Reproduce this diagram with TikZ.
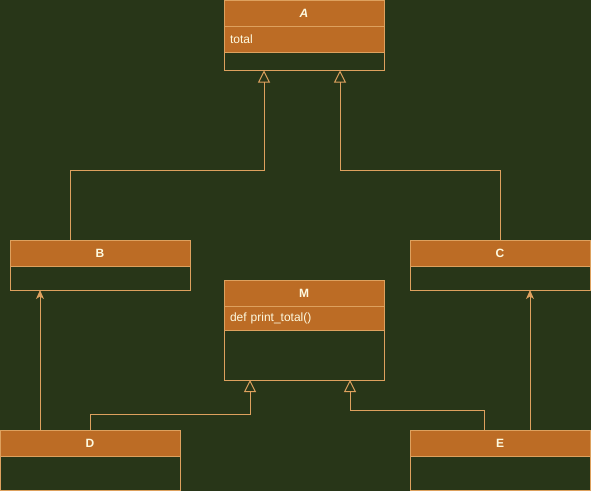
\documentclass[tikz,border=0pt]{standalone}
\usepackage{fontspec}
\setmainfont{Liberation Sans}
\usetikzlibrary{positioning,arrows.meta}
\definecolor{umlbg}{HTML}{283618}
\definecolor{umlfill}{HTML}{BC6C25}
\definecolor{umlline}{HTML}{DDA15E}
\definecolor{umltext}{HTML}{FEFAE0}

\tikzset{
  classhead/.style={rectangle, draw=umlline, fill=umlfill, line width=1pt,
        minimum height=26pt, inner sep=0pt, outer sep=0pt, text=umltext,
        font=\fontsize{12}{14}\selectfont\bfseries},
  classrow/.style={rectangle, draw=umlline, fill=umlfill, line width=1pt,
        minimum height=24pt, inner xsep=6pt, inner ysep=0pt, outer sep=0pt,
        align=left, text=umltext, font=\fontsize{12}{14}\selectfont},
  classbody/.style={rectangle, draw=umlline, line width=1pt, inner sep=0pt,
        outer sep=0pt},
  inherit/.style={draw=umlline, line width=1pt,
        -{Triangle[open, width=12pt, length=12pt]}},
  assoc/.style={draw=umlline, line width=1pt,
        -{Stealth[width=8pt, length=9pt, inset=2.5pt]}}
}

\begin{document}
\begin{tikzpicture}[x=1pt, y=-1pt]
  \useasboundingbox (0,0) rectangle (591,491);
  \fill[umlbg] (0,0) rectangle (591,491);

  % base class on top, with its one field
  \node[classhead, minimum width=160pt] (A) at (304,13.5) {\textit{A}};
  \node[classrow, text width=148pt, minimum height=26pt, below=0pt of A] (Aattr) {total};
  \node[classbody, minimum width=160pt, minimum height=18pt, below=0pt of Aattr] (Abody) {};

  % the two direct subclasses
  \node[classhead, minimum width=180pt] (B) at (100,253) {B};
  \node[classbody, minimum width=180pt, minimum height=24pt, below=0pt of B] (Bbody) {};
  \node[classhead, minimum width=180pt] (C) at (500,253) {C};
  \node[classbody, minimum width=180pt, minimum height=24pt, below=0pt of C] (Cbody) {};

  % mixin in the middle
  \node[classhead, minimum width=160pt] (M) at (304,293) {M};
  \node[classrow, text width=148pt, below=0pt of M] (Mattr) {def print\_total()};
  \node[classbody, minimum width=160pt, minimum height=50pt, below=0pt of Mattr] (Mbody) {};

  % bottom row
  \node[classhead, minimum width=180pt] (D) at (90,443) {D};
  \node[classbody, minimum width=180pt, minimum height=34pt, below=0pt of D] (Dbody) {};
  \node[classhead, minimum width=180pt] (E) at (500,443) {E};
  \node[classbody, minimum width=180pt, minimum height=34pt, below=0pt of E] (Ebody) {};

  % generalisations up to A
  \draw[inherit] ([xshift=-30pt]B.north) -- ++(0,-70) -| ([xshift=-40pt]Abody.south);
  \draw[inherit] (C.north) -- ++(0,-70) -| ([xshift=36pt]Abody.south);

  % D and E inherit from M
  \draw[inherit] (D.north) -- ++(0,-16) -| ([xshift=-54pt]Mbody.south);
  \draw[inherit] ([xshift=-16pt]E.north) -- ++(0,-20) -| ([xshift=46pt]Mbody.south);

  % D and E point to B and C
  \coordinate (Dfoot) at ([xshift=-50pt]D.north);
  \coordinate (Efoot) at ([xshift=30pt]E.north);
  \draw[assoc] (Dfoot) -- (Dfoot |- Bbody.south);
  \draw[assoc] (Efoot) -- (Efoot |- Cbody.south);
\end{tikzpicture}
\end{document}
